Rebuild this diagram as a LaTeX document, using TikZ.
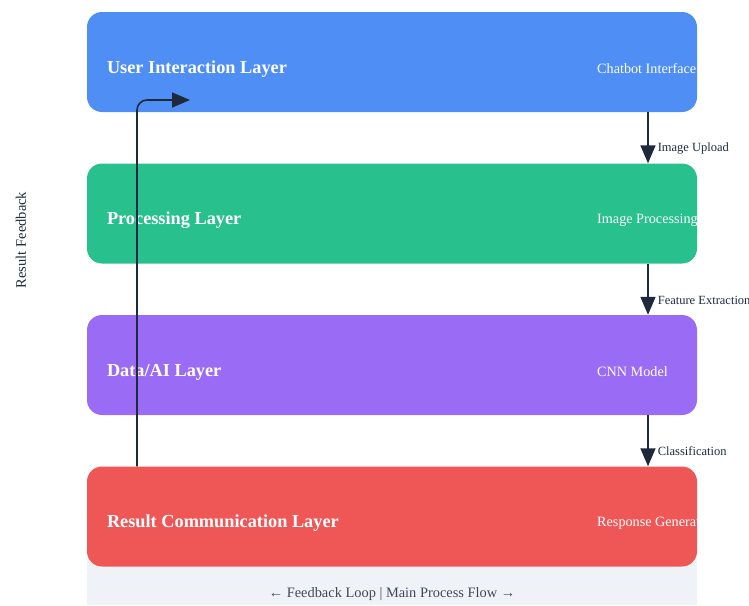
\documentclass[tikz,border=0pt]{standalone}
\usepackage{fontspec}
\setmainfont{Liberation Serif}
\usetikzlibrary{arrows.meta}

\definecolor{userblue}{HTML}{4F8EF5}
\definecolor{procgreen}{HTML}{28C08D}
\definecolor{aipurple}{HTML}{9A6CF5}
\definecolor{resultred}{HTML}{EF5757}
\definecolor{flowdark}{HTML}{1E293B}
\definecolor{noteband}{HTML}{EFF3F8}

\tikzset{
  layer/.style={rectangle, rounded corners=15pt, minimum width=610pt, minimum height=100pt, inner sep=0pt},
  layertitle/.style={anchor=west, inner sep=0pt, text=white, font=\fontsize{18.3}{20}\selectfont\bfseries},
  layerpart/.style={anchor=west, inner sep=0pt, text=white, font=\fontsize{14.2}{16}\selectfont},
  flow/.style={-{Triangle[length=18pt,width=15pt]}, line width=1.6pt, draw=flowdark},
  flowlabel/.style={anchor=west, inner sep=0pt, text=flowdark, font=\fontsize{12.5}{14}\selectfont}
}

\begin{document}
\begin{tikzpicture}[x=1pt,y=-1pt]
    \useasboundingbox (0,0) rectangle (749,605);

    % legend band under the last layer
    \fill[noteband] (87,560) rectangle (697,605);
    \node[text=flowdark!85, font=\fontsize{14.4}{16}\selectfont] (legend) at (392,594) {← Feedback Loop | Main Process Flow →};

    % the four layers
    \node[layer, fill=userblue] (user) at (392,62) {};
    \node[layer, fill=procgreen] (proc) at (392,213.5) {};
    \node[layer, fill=aipurple] (data) at (392,365) {};
    \node[layer, fill=resultred] (result) at (392,516.5) {};

    % layer names
    \node[layertitle] (usertitle) at ([xshift=20pt,yshift=-7pt]user.west) {User Interaction Layer};
    \node[layertitle] (proctitle) at ([xshift=20pt,yshift=-7pt]proc.west) {Processing Layer};
    \node[layertitle] (datatitle) at ([xshift=20pt,yshift=-7pt]data.west) {Data/AI Layer};
    \node[layertitle] (resulttitle) at ([xshift=20pt,yshift=-7pt]result.west) {Result Communication Layer};

    % components (cut at the right edge of the layers)
    \begin{scope}
        \clip (0,0) rectangle (697,605);
        \node[layerpart] (chatbot) at ([xshift=205pt,yshift=-7pt]user.center) {Chatbot Interface};
        \node[layerpart] (imgproc) at ([xshift=205pt,yshift=-7pt]proc.center) {Image Processing};
        \node[layerpart] (cnn) at ([xshift=205pt,yshift=-7pt]data.center) {CNN Model};
        \node[layerpart] (response) at ([xshift=205pt,yshift=-7pt]result.center) {Response Generation};
    \end{scope}

    % main process flow
    \draw[flow] ([xshift=256pt]user.south) -- ([xshift=256pt]proc.north)
        node[flowlabel, pos=0.71, xshift=9pt] (upload) {Image Upload};
    \draw[flow] ([xshift=256pt]proc.south) -- ([xshift=256pt]data.north)
        node[flowlabel, pos=0.71, xshift=9pt] (features) {Feature Extraction};
    \draw[flow] ([xshift=256pt]data.south) -- ([xshift=256pt]result.north)
        node[flowlabel, pos=0.71, xshift=9pt] (classify) {Classification};

    % feedback loop
    \coordinate (fbtip) at (190,100);
    \draw[flow, rounded corners=10pt] ([xshift=-255pt]result.north) |- (fbtip);
    \node[rotate=90, text=flowdark, font=\fontsize{14.5}{16}\selectfont] (fbnote) at (21,240) {Result Feedback};

\end{tikzpicture}
\end{document}
